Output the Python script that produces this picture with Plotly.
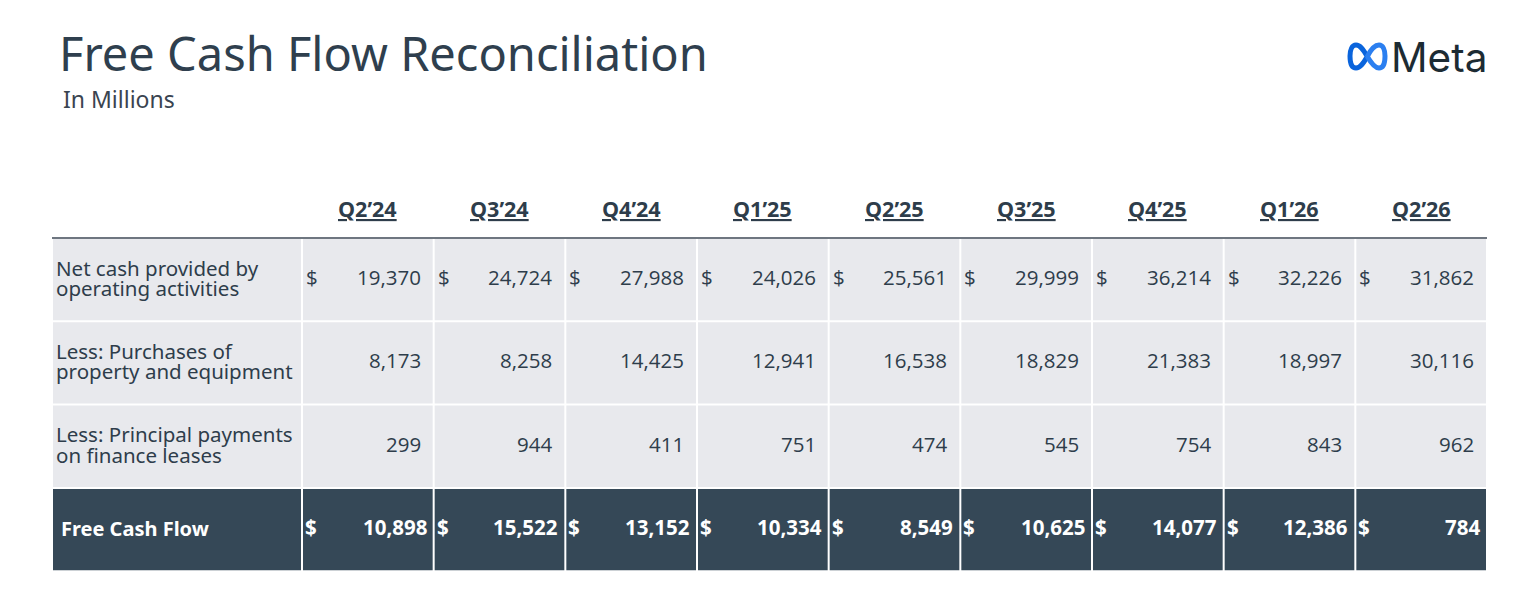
import plotly.graph_objects as go

W, H = 1532, 596
OFF = 8  # page body margin

# Table data (in millions)
quarters = ["Q2’24", "Q3’24", "Q4’24", "Q1’25", "Q2’25", "Q3’25", "Q4’25", "Q1’26", "Q2’26"]
row_labels = [
    ["Net cash provided by", "operating activities"],
    ["Less: Purchases of", "property and equipment"],
    ["Less: Principal payments", "on finance leases"],
    ["Free Cash Flow"],
]
op_cash = [19370, 24724, 27988, 24026, 25561, 29999, 36214, 32226, 31862]
capex = [8173, 8258, 14425, 12941, 16538, 18829, 21383, 18997, 30116]
leases = [299, 944, 411, 751, 474, 545, 754, 843, 962]
fcf = [10898, 15522, 13152, 10334, 8549, 10625, 14077, 12386, 784]
rows = [op_cash, capex, leases, fcf]
dollar_rows = [True, False, False, True]

# layout (pixels)
TX0, TX1 = 52, 1487
LABEL_W = 250
TOP = 238
ROW_H = 83.3
COL_W = (TX1 - TX0 - LABEL_W) / len(quarters)

TEXT = "#2e3d4b"
GRAY = "#e8e9ed"
DARK = "#354857"
LABEL_FONT = "Noto Sans"
NUM_FONT = "Open Sans"

fig = go.Figure()
shapes = []
ann = []

# cell backgrounds
for r in range(len(rows)):
    y0 = TOP + r * ROW_H
    fill = DARK if r == len(rows) - 1 else GRAY
    edges = [TX0, TX0 + LABEL_W] + [TX0 + LABEL_W + (c + 1) * COL_W for c in range(len(quarters))]
    for a, b in zip(edges[:-1], edges[1:]):
        shapes.append(dict(type="rect", x0=a + 1, x1=b - 1, y0=y0 + 1, y1=y0 + ROW_H - 1,
                           fillcolor=fill, line=dict(width=0), layer="below"))

# header rule
shapes.append(dict(type="line", x0=TX0, x1=TX1, y0=TOP, y1=TOP, line=dict(color="#6e7680", width=2)))

# column headers
for c, q in enumerate(quarters):
    xc = TX0 + LABEL_W + (c + 0.5) * COL_W
    ann.append(dict(x=xc, y=208, text=f"<b><u>{q}</u></b>", showarrow=False, xanchor="center", yanchor="middle",
                    font=dict(family=NUM_FONT, size=21.5, color=TEXT)))

# row labels and values
for r, vals in enumerate(rows):
    yc = TOP + (r + 0.5) * ROW_H
    last = r == len(rows) - 1
    color = "white" if last else TEXT
    lines = row_labels[r]
    if len(lines) == 2:
        for k, line in enumerate(lines):
            ann.append(dict(x=54, y=yc - 12 + k * 20.5, text=line, showarrow=False, xanchor="left", yanchor="middle",
                            font=dict(family=LABEL_FONT, size=20.5, color=color)))
    else:
        ann.append(dict(x=59, y=yc - 1, text=f"<b>{lines[0]}</b>", showarrow=False, xanchor="left", yanchor="middle",
                        font=dict(family=LABEL_FONT, size=20, color=color)))
    for c, v in enumerate(vals):
        x0 = TX0 + LABEL_W + c * COL_W
        x1 = x0 + COL_W
        pad = 5 if last else 11
        txt = f"{v:,}"
        if last:
            txt = f"<b>{txt}</b>"
        ann.append(dict(x=x1 - pad, y=yc - 2.5, text=txt, showarrow=False, xanchor="right", yanchor="middle",
                        font=dict(family=NUM_FONT, size=20.5, color=color)))
        if dollar_rows[r]:
            ann.append(dict(x=x0 + (1 if last else 2), y=yc - 2.5, text="<b>$</b>" if last else "$", showarrow=False,
                            xanchor="left", yanchor="middle", font=dict(family=NUM_FONT, size=20.5, color=color)))

# title and subtitle
ann.append(dict(x=57, y=53, text="Free Cash Flow Reconciliation", showarrow=False, xanchor="left", yanchor="middle",
                font=dict(family=LABEL_FONT, size=47, color="#2f3f4e")))
ann.append(dict(x=61, y=99, text="In Millions", showarrow=False, xanchor="left", yanchor="middle",
                font=dict(family=LABEL_FONT, size=23, color="#3a4450")))

# Meta logo (two loops, darker left, lighter right)
shapes.append(dict(type="path",
                   path="M 1367,56 C 1363,49 1360,45 1356,45 C 1352,45 1350,50 1350,56 "
                        "C 1350,63 1352,68 1356,68 C 1360,68 1363,64 1367,57",
                   line=dict(color="#0a64dc", width=5), fillcolor="rgba(0,0,0,0)"))
shapes.append(dict(type="path",
                   path="M 1367,57 C 1371,49 1375,45 1379,45 C 1383,45 1385,50 1385,56 C 1385,63 1383,68 1379,68 "
                        "C 1375,68 1371,63 1367,56",
                   line=dict(color="#2b7ff0", width=5), fillcolor="rgba(0,0,0,0)"))
ann.append(dict(x=1489, y=57, text="Meta", showarrow=False, xanchor="right", yanchor="middle",
                font=dict(family="Inter", size=40.5, color="#1c2b33")))

fig.update_layout(
    width=W, height=H,
    margin=dict(l=0, r=0, t=0, b=0),
    paper_bgcolor="white", plot_bgcolor="white",
    xaxis=dict(range=[OFF, W + OFF], visible=False, fixedrange=True),
    yaxis=dict(range=[H + OFF, OFF], visible=False, fixedrange=True),
    shapes=shapes, annotations=ann, showlegend=False,
)

fig.write_html("out.html")
